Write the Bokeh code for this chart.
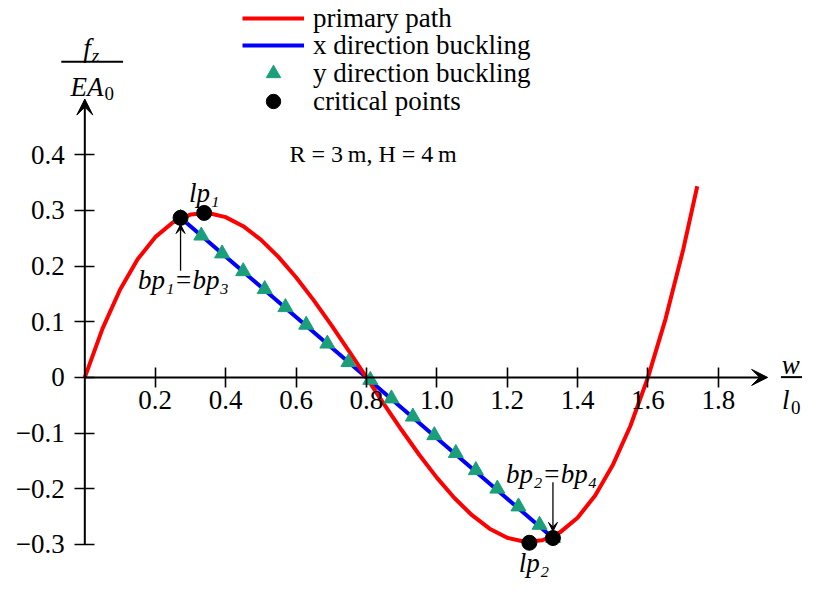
from bokeh.plotting import figure
from bokeh.models import (Range1d, FixedTicker, Arrow, VeeHead, Label, Legend,
                          LegendItem)
from bokeh.embed import file_html
from bokeh.resources import INLINE

# ---------------- data ----------------
w_primary = [0.00, 0.05, 0.10, 0.15, 0.20, 0.25, 0.30, 0.35, 0.40, 0.45,
             0.50, 0.55, 0.60, 0.65, 0.70, 0.75, 0.80, 0.85, 0.90, 0.95,
             1.00, 1.05, 1.10, 1.15, 1.20, 1.25, 1.30, 1.35, 1.40, 1.45,
             1.50, 1.55, 1.60, 1.65, 1.70, 1.74]
f_primary = [0.0, 0.0872, 0.1575, 0.2121, 0.252, 0.2784, 0.2925, 0.2953, 0.288, 0.2717,
             0.2475, 0.2166, 0.18, 0.1389, 0.0945, 0.0478, 0.0, -0.0478, -0.0945, -0.1389,
             -0.18, -0.2166, -0.2475, -0.2717, -0.288, -0.2953, -0.2925, -0.2784, -0.252, -0.2121,
             -0.1575, -0.0872, 0.0, 0.1052, 0.2295, 0.3435]

w_xbuck = [0.272, 0.800, 1.330]
f_xbuck = [0.2867, 0.0, -0.2885]

w_ybuck = [0.272, 0.331, 0.390, 0.450, 0.511, 0.570, 0.629, 0.689, 0.749, 0.811,
           0.871, 0.932, 0.993, 1.054, 1.111, 1.172, 1.232, 1.292, 1.330]
f_ybuck = [0.2867, 0.2546, 0.2225, 0.1906, 0.1584, 0.126, 0.0944, 0.0605, 0.0273, -0.0047,
           -0.038, -0.0706, -0.104, -0.136, -0.1668, -0.2, -0.232, -0.265, -0.2885]

w_crit = [0.272, 0.339, 1.263, 1.330]
f_crit = [0.2867, 0.2955, -0.297, -0.2885]

x_ticks = [0.2, 0.4, 0.6, 0.8, 1.0, 1.2, 1.4, 1.6, 1.8]
x_tick_labels = ["0.2", "0.4", "0.6", "0.8", "1.0", "1.2", "1.4", "1.6", "1.8"]
y_ticks = [-0.3, -0.2, -0.1, 0.0, 0.1, 0.2, 0.3, 0.4]
y_tick_labels = ["\u22120.3", "\u22120.2", "\u22120.1", "0", "0.1", "0.2", "0.3", "0.4"]

legend_labels = ["primary path", "x direction buckling", "y direction buckling", "critical points"]

# ---------------- layout ----------------
W, H = 802, 581
SX, SY = W / 818.0, H / 597.0          # fit the 818x597 design into the canvas
PXX, PXY = 359.0 * SX, 572.0 * SY      # pixels per data unit
X0, Y0 = 86.0 * SX, 387.3 * SY         # origin (from left / from top)
FONT = "Liberation Serif"
FS = "27px"
FS_LEG = "27px"
FS_SUB = "19px"

def sx(ix):
    return ix * SX

def sy(iy):
    return H - iy * SY

p = figure(width=W, height=H, output_backend="svg", toolbar_location=None,
           x_range=Range1d(-X0 / PXX, (W - X0) / PXX),
           y_range=Range1d(-(H - Y0) / PXY, Y0 / PXY),
           min_border=0, outline_line_color=None, background_fill_color="white")
p.grid.visible = False

for ax, ticks, labels in ((p.xaxis, x_ticks, x_tick_labels), (p.yaxis, y_ticks, y_tick_labels)):
    ax.fixed_location = 0
    ax.ticker = FixedTicker(ticks=ticks)
    ax.major_label_overrides = dict(zip(ticks, labels))
    ax.axis_line_color = None
    ax.major_tick_in = 10
    ax.major_tick_out = 10
    ax.major_tick_line_color = "black"
    ax.major_tick_line_width = 1.6
    ax.minor_tick_line_color = None
    ax.major_label_text_font = FONT
    ax.major_label_text_font_size = FS
    ax.major_label_text_color = "black"
p.xaxis.major_label_standoff = 4
p.yaxis.major_label_standoff = 10

# axis lines with arrow heads
X_ARROW_END = 1.94
Y_ARROW_END = 0.500
p.add_layout(Arrow(end=VeeHead(size=16, fill_color="black", line_color="black", line_width=1),
                   x_start=0, y_start=0, x_end=X_ARROW_END, y_end=0,
                   line_width=2, line_color="black"))
p.add_layout(Arrow(end=VeeHead(size=16, fill_color="black", line_color="black", line_width=1),
                   x_start=0, y_start=min(y_ticks), x_end=0, y_end=Y_ARROW_END,
                   line_width=2, line_color="black"))

# series
r_blue = p.line(w_xbuck, f_xbuck, line_color="#0000ff", line_width=4)
r_red = p.line(w_primary, f_primary, line_color="#ff0000", line_width=4)
r_green = p.scatter(w_ybuck, f_ybuck, marker="triangle", size=15,
                    fill_color="#1a9f7a", line_color="#1a9f7a")
r_black = p.scatter(w_crit, f_crit, marker="circle", size=15,
                    fill_color="black", line_color="black")

# legend: one single-row legend per entry so that the rows sit tightly as in the reference
GLYPH_H = 36
row_centres = [18, 46.5, 75, 103.5]      # reference rows (design pixels from top)
for lbl, rend, c in zip(legend_labels, [r_red, r_blue, r_green, r_black], row_centres):
    p.add_layout(Legend(items=[LegendItem(label=lbl, renderers=[rend])],
                        location=(round(sx(247)), round(H - c * SY - GLYPH_H / 2)),
                        orientation="vertical",
                        border_line_color=None, background_fill_alpha=0,
                        padding=0, margin=0, spacing=0,
                        glyph_width=62, glyph_height=GLYPH_H, label_height=26, label_standoff=9,
                        label_text_font=FONT, label_text_font_size=FS_LEG,
                        label_text_color="black"))

def lab(x, y, text, size=FS, style="italic", units="data", align="center", baseline="middle"):
    p.add_layout(Label(x=x, y=y, x_units=units, y_units=units, text=text,
                       text_font=FONT, text_font_size=size, text_font_style=style,
                       text_align=align, text_baseline=baseline, text_color="black"))

# point annotations
lab(w_crit[1], f_crit[1] + 0.036, "lp\u2081")
lab(w_crit[0] + 0.008, f_crit[0] - 0.111, "bp\u2081=bp\u2083")
lab(w_crit[3] - 0.004, f_crit[3] + 0.115, "bp\u2082=bp\u2084")
lab(w_crit[2] + 0.013, f_crit[2] - 0.036, "lp\u2082")
p.add_layout(Arrow(end=VeeHead(size=9, fill_color="black", line_color="black", line_width=1),
                   x_start=w_crit[0], y_start=f_crit[0] - 0.095,
                   x_end=w_crit[0], y_end=f_crit[0] - 0.012, line_width=1.3))
p.add_layout(Arrow(end=VeeHead(size=9, fill_color="black", line_color="black", line_width=1),
                   x_start=w_crit[3], y_start=f_crit[3] + 0.10,
                   x_end=w_crit[3], y_end=f_crit[3] + 0.012, line_width=1.3))

# parameter text
lab(sx(380), sy(158), "R = 3\u2009m, H = 4\u2009m", size="24px", style="normal", units="screen")

# y-axis label  f_z / EA_0
lab(sx(92), sy(49), "f", units="screen", align="right", baseline="alphabetic")
lab(sx(93), sy(57), "z", size=FS_SUB, units="screen", align="left", baseline="alphabetic")
p.add_layout(Arrow(end=None, x_start=sx(62), y_start=sy(63), x_end=sx(125), y_end=sy(63),
                   start_units="screen", end_units="screen", line_width=2))
lab(sx(105), sy(89), "EA", units="screen", align="right", baseline="alphabetic")
lab(sx(106), sy(96), "0", size=FS_SUB, style="normal", units="screen", align="left",
    baseline="alphabetic")

# x-axis label  w / l_0
lab(sx(806), sy(375), "w", units="screen", baseline="alphabetic")
p.add_layout(Arrow(end=None, x_start=sx(796), y_start=sy(387), x_end=sx(818), y_end=sy(387),
                   start_units="screen", end_units="screen", line_width=2))
lab(sx(801), sy(411), "l", units="screen", baseline="alphabetic")
lab(sx(811), sy(418), "0", size=FS_SUB, style="normal", units="screen", baseline="alphabetic")

open("out.html", "w").write(file_html(p, INLINE))
